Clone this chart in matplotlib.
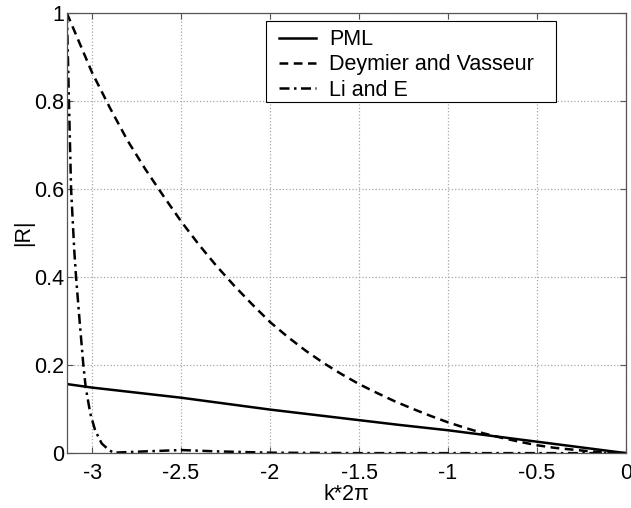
import numpy as np
import matplotlib
matplotlib.use("Agg")
import matplotlib.pyplot as plt
from matplotlib.patches import Rectangle

plt.rcParams["font.family"] = ["Liberation Sans", "DejaVu Sans"]
plt.rcParams["axes.unicode_minus"] = False

# reflection coefficient vs normalised wavenumber
k_pml = [-np.pi, -3.0, -2.5, -2.0, -1.5, -1.27, -1.0, -0.5, 0.0]
r_pml = [0.157, 0.149, 0.126, 0.099, 0.075, 0.064, 0.052, 0.026, 0.0]

k_dv = [-np.pi, -3.0, -2.9, -2.8, -2.7, -2.6, -2.5, -2.4, -2.3, -2.2, -2.1,
        -2.0, -1.9, -1.8, -1.7, -1.6, -1.5, -1.4, -1.3, -1.2, -1.1, -1.0,
        -0.9, -0.8, -0.7, -0.6, -0.5, -0.4, -0.3, -0.2, -0.1, 0.0]
r_dv = [1.0, 0.865, 0.785, 0.71, 0.645, 0.585, 0.527, 0.474, 0.425, 0.38, 0.338,
        0.298, 0.264, 0.233, 0.205, 0.18, 0.157, 0.137, 0.118, 0.101, 0.085, 0.07,
        0.057, 0.045, 0.035, 0.026, 0.018, 0.012, 0.008, 0.004, 0.002, 0.0]

k_le = [-np.pi, -3.13, -3.118, -3.10, -3.09, -3.07, -3.049, -3.036, -3.01,
        -2.983, -2.946, -2.908, -2.88, -2.7, -2.5, -2.3, -2.0, -1.5, 0.0]
r_le = [1.0, 0.8, 0.6, 0.46, 0.4, 0.3, 0.2, 0.15, 0.09,
        0.052, 0.022, 0.008, 0.001, 0.004, 0.007, 0.004, 0.001, 0.0, 0.0]

labels = ["PML", "Deymier and Vasseur", "Li and E"]
fs = 15.5

fig = plt.figure(figsize=(6.31, 5.08), dpi=100)
ax = fig.add_axes([0.106, 0.108, 0.886, 0.866])

ax.plot(k_pml, r_pml, color="black", lw=1.8, ls="-", label=labels[0])
ax.plot(k_dv, r_dv, color="black", lw=1.8, ls=(0, (3.5, 2.2)), label=labels[1])
ax.plot(k_le, r_le, color="black", lw=1.8, ls=(0, (4, 1.8, 1, 1.8)), label=labels[2])

ax.set_xlim(-np.pi, 0)
ax.set_ylim(0, 1)
ax.set_xticks([-3, -2.5, -2, -1.5, -1, -0.5, 0])
ax.set_xticklabels(["-3", "-2.5", "-2", "-1.5", "-1", "-0.5", "0"])
ax.set_yticks([0, 0.2, 0.4, 0.6, 0.8, 1])
ax.set_yticklabels(["0", "0.2", "0.4", "0.6", "0.8", "1"])

ax.grid(True, ls=":", color="#a8a8a8", lw=0.9)
ax.tick_params(direction="in", top=True, right=True, length=4,
               labelsize=fs, color="#555555")
ax.tick_params(axis="x", pad=7)
ax.tick_params(axis="y", pad=2)
for s in ax.spines.values():
    s.set_color("#555555")
    s.set_linewidth(0.9)

ax.set_xlabel("k*2\u03c0", fontsize=fs, labelpad=0)
ax.set_ylabel("|R|", fontsize=fs, labelpad=0)

# legend box drawn separately so it can carry extra right padding
ax.add_patch(Rectangle((0.356, 0.798), 0.519, 0.184, transform=ax.transAxes,
                       facecolor="white", edgecolor="black", lw=0.8, zorder=4))
leg = ax.legend(loc="upper left", bbox_to_anchor=(0.379, 0.964), fontsize=fs,
                frameon=False, handlelength=1.75, handletextpad=0.6,
                labelspacing=0.2, borderpad=0, borderaxespad=0)
leg.set_zorder(5)

fig.savefig("out.png", dpi=100)
